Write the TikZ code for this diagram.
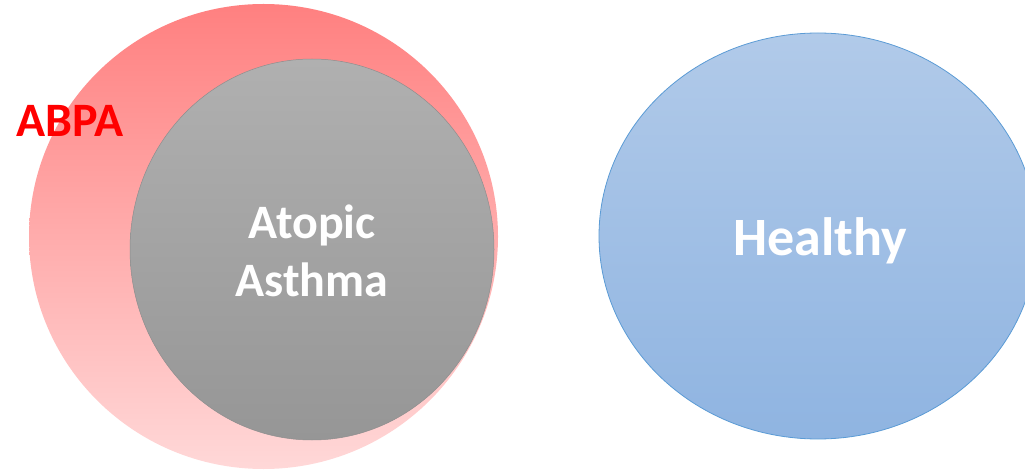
\documentclass[tikz,border=0pt]{standalone}
\usepackage{fontspec}
\setmainfont{Carlito}
\definecolor{redtop}{HTML}{FF8080}
\definecolor{redbot}{HTML}{FFD8D8}
\definecolor{graytop}{HTML}{B0B0B0}
\definecolor{graybot}{HTML}{969696}
\definecolor{grayline}{HTML}{8E8E8E}
\definecolor{bluetop}{HTML}{B1CAE9}
\definecolor{bluebot}{HTML}{8FB4E1}
\definecolor{blueline}{HTML}{5B9BD5}
\definecolor{abpared}{HTML}{FF0000}
\tikzset{
  label text/.style={text=white, font=\bfseries, align=center},
}
\begin{document}
\begin{tikzpicture}[x=1pt,y=-1pt]
\useasboundingbox (0,0) rectangle (1025,470);
\begin{scope}
\clip (0,0) rectangle (1025,470);
% ABPA circle
\shade[top color=redtop, bottom color=redbot] (263.5,236.5) ellipse [x radius=234.5, y radius=232.5];
% Atopic asthma circle
\shade[top color=graytop, bottom color=graybot, draw=grayline, line width=0.5pt] (312,249.5) ellipse [x radius=182, y radius=190.5];
% Healthy ellipse
\shade[top color=bluetop, bottom color=bluebot, draw=blueline, line width=0.8pt] (818,236) ellipse [x radius=219, y radius=203];
\end{scope}
\node[label text, font=\fontsize{48}{58}\selectfont\bfseries] (asthma) at (312,251) {Atopic\\Asthma};
\node[label text, font=\fontsize{54}{60}\selectfont\bfseries] (healthy) at (820,241) {Healthy};
\node[text=abpared, font=\fontsize{48}{52}\selectfont\bfseries, anchor=base west, inner sep=0pt] (abpa) at (16,137) {ABPA};
\end{tikzpicture}
\end{document}
